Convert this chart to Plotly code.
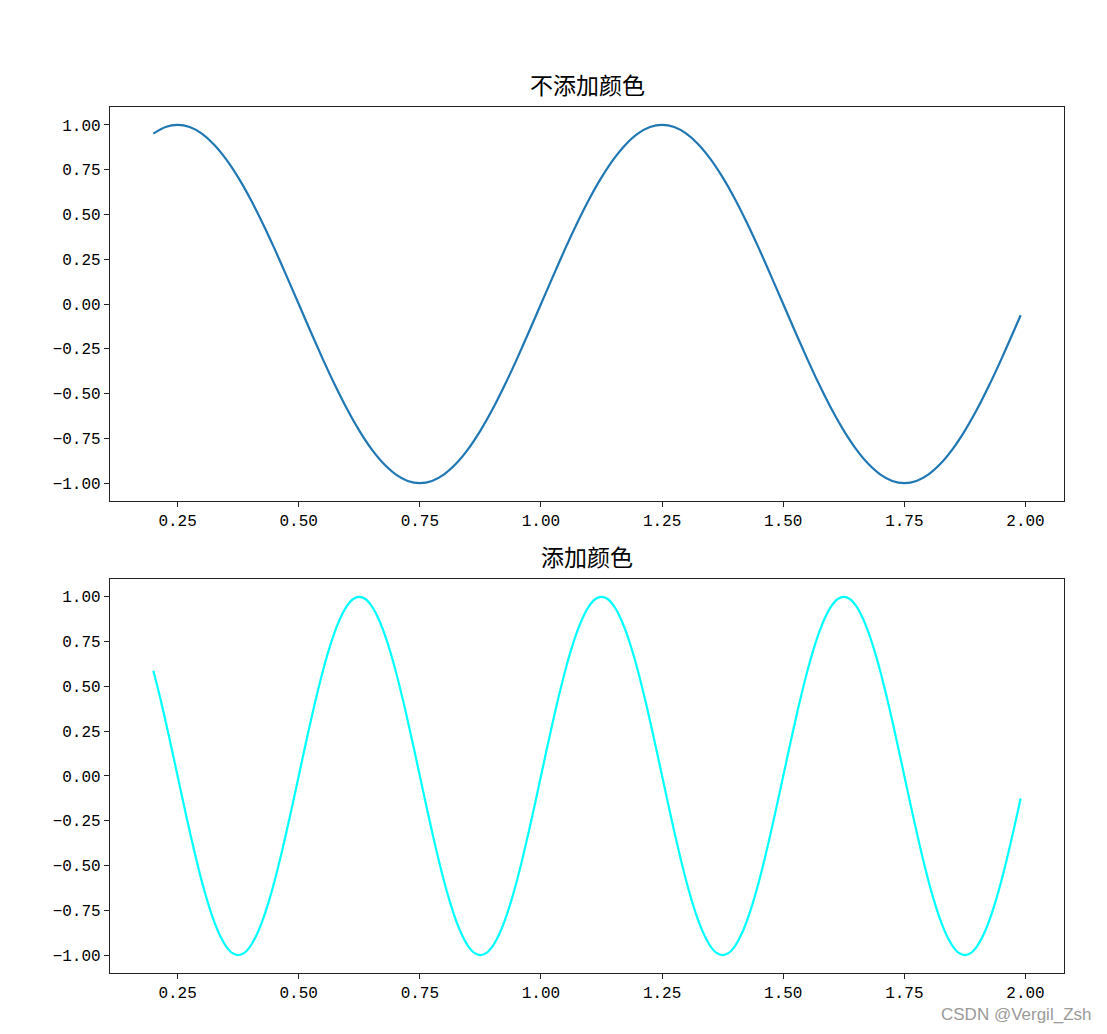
import plotly.graph_objects as go
from plotly.subplots import make_subplots

# top panel: samples
x_top = [0.200, 0.225, 0.250, 0.275, 0.300, 0.325, 0.350, 0.375,
         0.400, 0.425, 0.450, 0.475, 0.500, 0.525, 0.550, 0.575,
         0.600, 0.625, 0.650, 0.675, 0.700, 0.725, 0.750, 0.775,
         0.800, 0.825, 0.850, 0.875, 0.900, 0.925, 0.950, 0.975,
         1.000, 1.025, 1.050, 1.075, 1.100, 1.125, 1.150, 1.175,
         1.200, 1.225, 1.250, 1.275, 1.300, 1.325, 1.350, 1.375,
         1.400, 1.425, 1.450, 1.475, 1.500, 1.525, 1.550, 1.575,
         1.600, 1.625, 1.650, 1.675, 1.700, 1.725, 1.750, 1.775,
         1.800, 1.825, 1.850, 1.875, 1.900, 1.925, 1.950, 1.975,
         1.990]
y_top = [0.951, 0.988, 1.000, 0.988, 0.951, 0.891, 0.809, 0.707,
         0.588, 0.454, 0.309, 0.156, 0.000, -0.156, -0.309, -0.454,
         -0.588, -0.707, -0.809, -0.891, -0.951, -0.988, -1.000, -0.988,
         -0.951, -0.891, -0.809, -0.707, -0.588, -0.454, -0.309, -0.156,
         0.000, 0.156, 0.309, 0.454, 0.588, 0.707, 0.809, 0.891,
         0.951, 0.988, 1.000, 0.988, 0.951, 0.891, 0.809, 0.707,
         0.588, 0.454, 0.309, 0.156, 0.000, -0.156, -0.309, -0.454,
         -0.588, -0.707, -0.809, -0.891, -0.951, -0.988, -1.000, -0.988,
         -0.951, -0.891, -0.809, -0.707, -0.588, -0.454, -0.309, -0.156,
         -0.063]

# bottom panel: samples
x_bot = [0.2000, 0.2125, 0.2250, 0.2375, 0.2500, 0.2625, 0.2750, 0.2875,
         0.3000, 0.3125, 0.3250, 0.3375, 0.3500, 0.3625, 0.3750, 0.3875,
         0.4000, 0.4125, 0.4250, 0.4375, 0.4500, 0.4625, 0.4750, 0.4875,
         0.5000, 0.5125, 0.5250, 0.5375, 0.5500, 0.5625, 0.5750, 0.5875,
         0.6000, 0.6125, 0.6250, 0.6375, 0.6500, 0.6625, 0.6750, 0.6875,
         0.7000, 0.7125, 0.7250, 0.7375, 0.7500, 0.7625, 0.7750, 0.7875,
         0.8000, 0.8125, 0.8250, 0.8375, 0.8500, 0.8625, 0.8750, 0.8875,
         0.9000, 0.9125, 0.9250, 0.9375, 0.9500, 0.9625, 0.9750, 0.9875,
         1.0000, 1.0125, 1.0250, 1.0375, 1.0500, 1.0625, 1.0750, 1.0875,
         1.1000, 1.1125, 1.1250, 1.1375, 1.1500, 1.1625, 1.1750, 1.1875,
         1.2000, 1.2125, 1.2250, 1.2375, 1.2500, 1.2625, 1.2750, 1.2875,
         1.3000, 1.3125, 1.3250, 1.3375, 1.3500, 1.3625, 1.3750, 1.3875,
         1.4000, 1.4125, 1.4250, 1.4375, 1.4500, 1.4625, 1.4750, 1.4875,
         1.5000, 1.5125, 1.5250, 1.5375, 1.5500, 1.5625, 1.5750, 1.5875,
         1.6000, 1.6125, 1.6250, 1.6375, 1.6500, 1.6625, 1.6750, 1.6875,
         1.7000, 1.7125, 1.7250, 1.7375, 1.7500, 1.7625, 1.7750, 1.7875,
         1.8000, 1.8125, 1.8250, 1.8375, 1.8500, 1.8625, 1.8750, 1.8875,
         1.9000, 1.9125, 1.9250, 1.9375, 1.9500, 1.9625, 1.9750, 1.9875,
         1.9900]
y_bot = [0.588, 0.454, 0.309, 0.156, 0.000, -0.156, -0.309, -0.454,
         -0.588, -0.707, -0.809, -0.891, -0.951, -0.988, -1.000, -0.988,
         -0.951, -0.891, -0.809, -0.707, -0.588, -0.454, -0.309, -0.156,
         0.000, 0.156, 0.309, 0.454, 0.588, 0.707, 0.809, 0.891,
         0.951, 0.988, 1.000, 0.988, 0.951, 0.891, 0.809, 0.707,
         0.588, 0.454, 0.309, 0.156, 0.000, -0.156, -0.309, -0.454,
         -0.588, -0.707, -0.809, -0.891, -0.951, -0.988, -1.000, -0.988,
         -0.951, -0.891, -0.809, -0.707, -0.588, -0.454, -0.309, -0.156,
         0.000, 0.156, 0.309, 0.454, 0.588, 0.707, 0.809, 0.891,
         0.951, 0.988, 1.000, 0.988, 0.951, 0.891, 0.809, 0.707,
         0.588, 0.454, 0.309, 0.156, 0.000, -0.156, -0.309, -0.454,
         -0.588, -0.707, -0.809, -0.891, -0.951, -0.988, -1.000, -0.988,
         -0.951, -0.891, -0.809, -0.707, -0.588, -0.454, -0.309, -0.156,
         0.000, 0.156, 0.309, 0.454, 0.588, 0.707, 0.809, 0.891,
         0.951, 0.988, 1.000, 0.988, 0.951, 0.891, 0.809, 0.707,
         0.588, 0.454, 0.309, 0.156, 0.000, -0.156, -0.309, -0.454,
         -0.588, -0.707, -0.809, -0.891, -0.951, -0.988, -1.000, -0.988,
         -0.951, -0.891, -0.809, -0.707, -0.588, -0.454, -0.309, -0.156,
         -0.125]

titles = ["不添加颜色", "添加颜色"]
x_ticks = [0.25, 0.50, 0.75, 1.00, 1.25, 1.50, 1.75, 2.00]
y_ticks = [1.00, 0.75, 0.50, 0.25, 0.00, -0.25, -0.50, -0.75, -1.00]

fig = make_subplots(rows=2, cols=1, vertical_spacing=0.09)

fig.add_trace(go.Scatter(x=x_top, y=y_top, mode="lines",
                         line=dict(color="#1f77b4", width=2.2, shape="spline", smoothing=0.8)),
              row=1, col=1)
fig.add_trace(go.Scatter(x=x_bot, y=y_bot, mode="lines",
                         line=dict(color="#00ffff", width=2.2, shape="spline", smoothing=0.8)),
              row=2, col=1)

tickfont = dict(family="Liberation Mono, DejaVu Sans Mono, monospace", size=16, color="black")
axis_style = dict(showgrid=False, zeroline=False, showline=True, mirror=True,
                  linecolor="#222", linewidth=1.3, ticks="outside", ticklen=5,
                  tickwidth=1.2, tickcolor="#222", tickfont=tickfont)

for r in (1, 2):
    fig.update_xaxes(range=[0.1105, 2.0795], tickvals=x_ticks,
                     ticktext=["%.2f" % v for v in x_ticks], row=r, col=1, **axis_style)
    fig.update_yaxes(range=[-1.1, 1.1], tickvals=y_ticks,
                     ticktext=["%.2f" % v if v >= 0 else "−%.2f" % -v for v in y_ticks],
                     row=r, col=1, **axis_style)

fig.layout.yaxis.domain = [0.545, 1.0]
fig.layout.yaxis2.domain = [0.0, 0.455]

ann = []
for t, yd in zip(titles, [1.0, 0.455]):
    ann.append(dict(text=t, x=0.5, xref="paper", y=yd, yref="paper", yshift=4,
                    xanchor="center", yanchor="bottom", showarrow=False,
                    font=dict(family="Noto Sans CJK SC", size=23, color="black")))
# watermark, bottom right corner
ann.append(dict(text="CSDN @Vergil_Zsh", x=1.0, xref="paper", y=0, yref="paper",
                xshift=29, yshift=-41, showarrow=False, xanchor="right", yanchor="middle",
                font=dict(family="Liberation Sans, Arial", size=17, color="#9a9a9a")))
fig.update_layout(annotations=ann)

# page body adds an 8px offset, margins compensate for it
fig.update_layout(width=1107, height=1034, showlegend=False,
                  margin=dict(l=102, r=51, t=99, b=69),
                  paper_bgcolor="white", plot_bgcolor="white",
                  font=dict(family="Noto Sans CJK SC"))

fig.write_html("out.html")
